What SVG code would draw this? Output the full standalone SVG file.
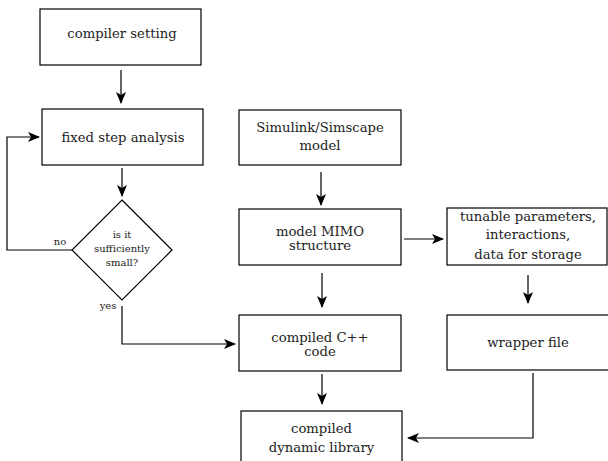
<svg xmlns="http://www.w3.org/2000/svg" width="608" height="461" viewBox="0 0 608 461">
<style>
.box{fill:#fff;stroke:#000;stroke-width:1.2}
.t{font-family:'DejaVu Serif','Liberation Serif',serif;font-size:13.2px;fill:#222;text-anchor:middle}
.s{font-family:'DejaVu Serif','Liberation Serif',serif;font-size:10px;fill:#222;text-anchor:middle}
.c{fill:none;stroke:#000;stroke-width:1.2}
</style>
<defs>
<marker id="ah" viewBox="0 0 12 10" refX="11" refY="5" markerWidth="12" markerHeight="10" markerUnits="userSpaceOnUse" orient="auto">
<path d="M0,0 L12,5 L0,10 L3,5 Z" fill="#000"/>
</marker>
</defs>
<g id="connectors">
<path class="c" d="M121,70 V103" marker-end="url(#ah)"/>
<path class="c" d="M122,168 V196" marker-end="url(#ah)"/>
<path class="c" d="M72,250 H7 V137 H39" marker-end="url(#ah)"/>
<path class="c" d="M122,306 V344 H235" marker-end="url(#ah)"/>
<path class="c" d="M321,172 V205" marker-end="url(#ah)"/>
<path class="c" d="M404,239 H443" marker-end="url(#ah)"/>
<path class="c" d="M322,273 V307" marker-end="url(#ah)"/>
<path class="c" d="M528,275 V303" marker-end="url(#ah)"/>
<path class="c" d="M322,374 V404" marker-end="url(#ah)"/>
<path class="c" d="M533,373 V438 H408" marker-end="url(#ah)"/>
</g>
<g id="compiler-setting">
<rect class="box" x="40" y="9" width="161" height="56"/>
<text class="t" x="122" y="38">compiler setting</text>
</g>
<g id="fixed-step">
<rect class="box" x="42" y="109" width="161" height="56"/>
<text class="t" x="123" y="142">fixed step analysis</text>
</g>
<g id="decision">
<polygon class="box" points="122,200 172,250 122,300 72,250"/>
<text class="s" x="122" y="238">is it</text>
<text class="s" x="122" y="252">sufficiently</text>
<text class="s" x="122" y="266">small?</text>
</g>
<g id="labels">
<text class="s" x="60" y="245">no</text>
<text class="s" x="108" y="309">yes</text>
</g>
<g id="simulink">
<rect class="box" x="239" y="110" width="162" height="55"/>
<text class="t" x="320" y="132">Simulink/Simscape</text>
<text class="t" x="320" y="150">model</text>
</g>
<g id="mimo">
<rect class="box" x="239" y="209" width="162" height="56"/>
<text class="t" x="320" y="236">model MIMO</text>
<text class="t" x="320" y="250">structure</text>
</g>
<g id="tunable">
<rect class="box" x="447" y="208" width="160" height="57"/>
<text class="t" x="528" y="221">tunable parameters,</text>
<text class="t" x="528" y="239">interactions,</text>
<text class="t" x="528" y="259">data for storage</text>
</g>
<g id="cpp">
<rect class="box" x="239" y="315" width="162" height="56"/>
<text class="t" x="320" y="342">compiled C++</text>
<text class="t" x="320" y="356">code</text>
</g>
<g id="wrapper">
<rect class="box" x="447" y="315" width="162" height="55"/>
<text class="t" x="528" y="347">wrapper file</text>
</g>
<g id="dynlib">
<rect class="box" x="241" y="411" width="161" height="56"/>
<text class="t" x="321.5" y="433">compiled</text>
<text class="t" x="321.5" y="452">dynamic library</text>
</g>
</svg>
